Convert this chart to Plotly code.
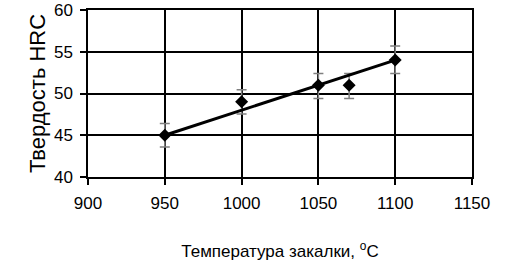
import plotly.graph_objects as go

temps = [950, 1000, 1050, 1070, 1100]
hardness = [45, 49, 51, 51, 54]
err_plus = [1.4, 1.45, 1.4, 1.4, 1.7]
err_minus = [1.4, 1.45, 1.6, 1.6, 1.6]
trend_x = [950, 1100]
trend_y = [45, 54]

x_ticks = [900, 950, 1000, 1050, 1100, 1150]
y_ticks = [40, 45, 50, 55, 60]

regular = "Liberation Sans, Arial, sans-serif"

fig = go.Figure()
fig.add_trace(go.Scatter(
    x=temps, y=hardness, mode="markers",
    marker=dict(symbol="diamond", size=10, color="black"),
    error_y=dict(type="data", symmetric=False, array=err_plus, arrayminus=err_minus,
                 color="#808080", thickness=1.5, width=5),
    showlegend=False,
))
fig.add_trace(go.Scatter(
    x=trend_x, y=trend_y, mode="lines",
    line=dict(color="black", width=3), showlegend=False,
))

fig.update_layout(
    width=515, height=265,
    margin=dict(l=88, r=43, t=10, b=88),
    paper_bgcolor="white", plot_bgcolor="white",
)
fig.update_xaxes(
    range=[900, 1150], tickvals=x_ticks, ticktext=[str(v) for v in x_ticks],
    showgrid=True, gridcolor="black", gridwidth=1.5,
    showline=True, linecolor="black", linewidth=1.5, mirror=True,
    ticks="outside", ticklen=6, tickcolor="black", tickwidth=1.5,
    tickfont=dict(family=regular, size=17, color="black"),
    ticklabelstandoff=4, ticklabeloverflow="allow", automargin=False,
    title=dict(text="Температура закалки, <sup>o</sup>C",
               font=dict(family=regular, size=17, color="black"), standoff=33),
    zeroline=False,
)
fig.update_yaxes(
    range=[40, 60], tickvals=y_ticks, ticktext=[str(v) for v in y_ticks],
    showgrid=True, gridcolor="black", gridwidth=1.5,
    showline=True, linecolor="black", linewidth=1.5, mirror=True,
    ticks="outside", ticklen=6, tickcolor="black", tickwidth=1.5,
    tickfont=dict(family=regular, size=17, color="black"),
    ticklabelstandoff=4, ticklabeloverflow="allow", automargin=False,
    title=dict(text="Твердость HRC",
               font=dict(family=regular, size=22, color="black"), standoff=2),
    zeroline=False,
)

fig.write_html("out.html")
